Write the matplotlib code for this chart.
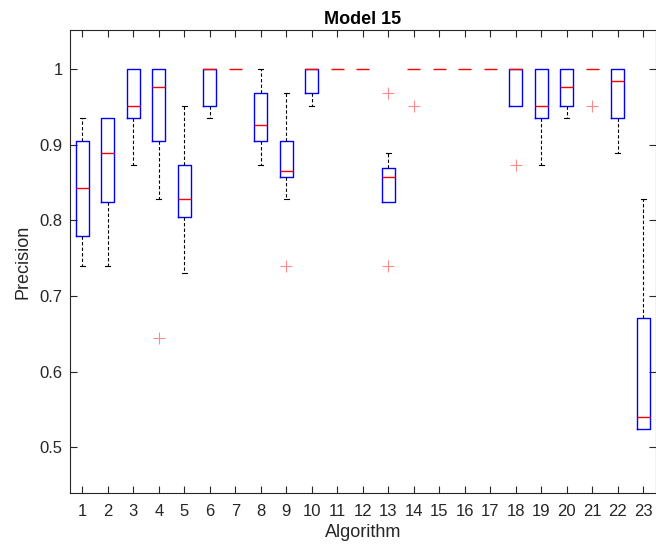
import matplotlib.pyplot as plt
import numpy as np

plt.rcParams["font.family"] = ["Liberation Sans", "DejaVu Sans"]

algorithms = list(range(1, 24))
# box statistics (one entry per algorithm)
whisker_low = [0.740, 0.740, 0.873, 0.829, 0.730, 0.936, 1.0, 0.873, 0.829, 0.952, 1.0, 1.0,
               0.825, 1.0, 1.0, 1.0, 1.0, 0.952, 0.873, 0.936, 1.0, 0.889, 0.524]
q1 = [0.779, 0.825, 0.936, 0.905, 0.805, 0.952, 1.0, 0.905, 0.857, 0.968, 1.0, 1.0,
      0.825, 1.0, 1.0, 1.0, 1.0, 0.952, 0.936, 0.952, 1.0, 0.936, 0.524]
medians = [0.843, 0.889, 0.952, 0.976, 0.829, 1.0, 1.0, 0.926, 0.865, 1.0, 1.0, 1.0,
           0.857, 1.0, 1.0, 1.0, 1.0, 1.0, 0.952, 0.976, 1.0, 0.984, 0.540]
q3 = [0.905, 0.936, 1.0, 1.0, 0.873, 1.0, 1.0, 0.968, 0.905, 1.0, 1.0, 1.0,
      0.869, 1.0, 1.0, 1.0, 1.0, 1.0, 1.0, 1.0, 1.0, 1.0, 0.671]
whisker_high = [0.936, 0.936, 1.0, 1.0, 0.952, 1.0, 1.0, 1.0, 0.968, 1.0, 1.0, 1.0,
                0.889, 1.0, 1.0, 1.0, 1.0, 1.0, 1.0, 1.0, 1.0, 1.0, 0.829]
outliers = [[], [], [], [0.645], [], [], [], [], [0.740], [], [], [],
            [0.968, 0.740], [0.952], [], [], [], [0.873], [], [], [0.952], [], []]

stats = []
for i in range(len(algorithms)):
    stats.append({
        "whislo": whisker_low[i], "q1": q1[i], "med": medians[i],
        "q3": q3[i], "whishi": whisker_high[i], "fliers": outliers[i],
    })

fig = plt.figure(figsize=(6.56, 5.51), dpi=100)
ax = fig.add_axes([0.106, 0.1047, 0.894, 0.8409])

parts = ax.bxp(
    stats, positions=algorithms, widths=0.5, capwidths=0.2,
    boxprops=dict(color="#0000ff", linewidth=1.0),
    medianprops=dict(color="#ff0000", linewidth=1.0, zorder=4),
    whiskerprops=dict(color="black", linewidth=0.8, linestyle=(0, (3, 2))),
    capprops=dict(color="black", linewidth=0.8),
    flierprops=dict(marker="+", markeredgecolor="#ff0000", alpha=0.45,
                    markersize=9, markeredgewidth=0.8, linestyle="none"),
)

# all-equal samples: only the red median dash shows
for i in range(len(algorithms)):
    if q1[i] == q3[i]:
        parts["boxes"][i].set_visible(False)
    if whisker_low[i] == q1[i]:
        parts["caps"][2 * i].set_visible(False)
    if whisker_high[i] == q3[i]:
        parts["caps"][2 * i + 1].set_visible(False)

ax.set_xlim(0.5, 23.5)
ax.set_ylim(0.439, 1.052)
ax.set_xticks(algorithms)
ax.set_xticklabels([str(a) for a in algorithms])
ax.set_yticks([0.5, 0.6, 0.7, 0.8, 0.9, 1.0])
ax.set_yticklabels(["0.5", "0.6", "0.7", "0.8", "0.9", "1"])

ax.tick_params(direction="in", length=5, width=0.8, top=True, right=True,
               labelsize=12, colors="#262626")
ax.tick_params(axis="x", pad=8)
ax.tick_params(axis="y", pad=5)
for s in ax.spines.values():
    s.set_color("#262626")
    s.set_linewidth(0.8)

ax.set_title("Model 15", fontsize=13, fontweight="bold", pad=4)
ax.set_xlabel("Algorithm", fontsize=13, color="#262626", labelpad=3)
ax.set_ylabel("Precision", fontsize=13, color="#262626", labelpad=6)

fig.savefig("out.png", dpi=100)
